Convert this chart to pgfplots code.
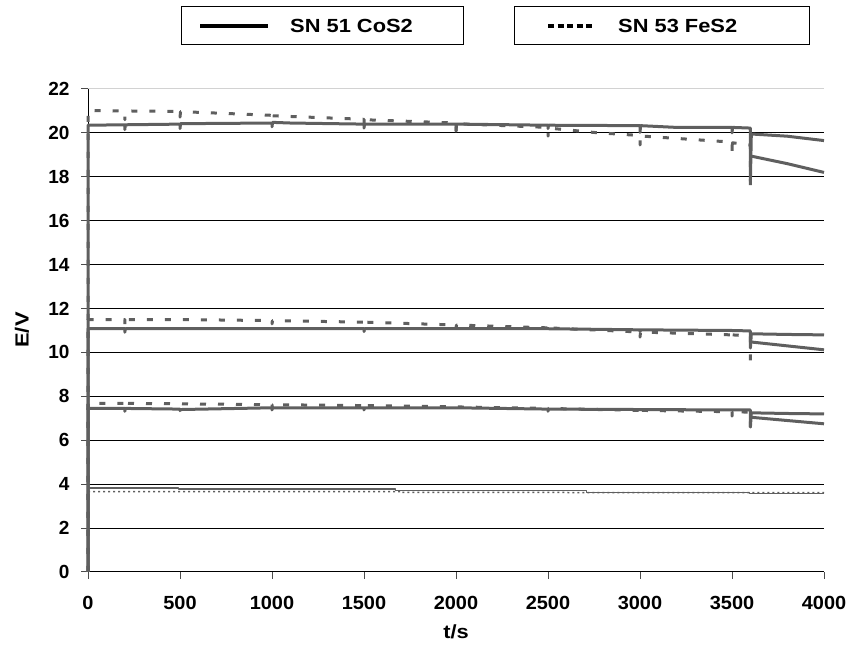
\documentclass[border=0pt]{standalone}
\usepackage{pgfplots}
\pgfplotsset{compat=1.18}
\usepackage{fontspec}
\setmainfont{Liberation Sans}
\definecolor{ser}{HTML}{5F5F5F}
\newcommand{\lbl}{\fontsize{19}{22}\selectfont\bfseries}

\begin{document}
\lbl
\begin{tikzpicture}
\useasboundingbox (0pt,0pt) rectangle (849pt,650pt);
\begin{axis}[at={(88pt,78pt)},anchor=south west,scale only axis,width=736pt,height=483pt,
 xmin=0,xmax=4000,ymin=0,ymax=22,
 xtick={0,500,...,4000},ytick={0,2,...,20},
 extra y ticks={22},extra y tick style={grid style={gray!35,line width=1pt}},
 axis x line*=bottom,axis y line*=left,axis line style={black,line width=1pt},
 ymajorgrids,grid style={black,line width=1pt},
 tick align=outside,major tick length=7pt,tick style={black!70,line width=1pt},
 ticklabel style={font=\lbl},
 xticklabel style={yshift=-11pt,xscale=1.05},
 yticklabel style={xshift=-5pt},
 /pgf/number format/assume math mode=true,/pgf/number format/1000 sep={},
 every axis plot/.append style={line join=round},
 clip=false]
% CoS2, three upper traces
\addplot[ser,line width=3pt] coordinates {(0,0) (0,20.35) (200,20.37) (200,20.15) (203,20.37) (500,20.4) (500,20.2) (503,20.42)
 (1000,20.45) (1000,20.28) (1003,20.48) (1100,20.45) (1500,20.4) (1500,20.22) (1503,20.4) (2000,20.4) (2000,20.08) (2003,20.4)
 (2500,20.35) (2500,20.2) (2503,20.35) (3000,20.33) (3000,20.02) (3003,20.33) (3200,20.25) (3500,20.25) (3500,20.0) (3503,20.25)
 (3600,20.22) (3600,17.8) (3605,19.95) (3800,19.85) (4000,19.65)};
\addplot[ser,line width=3pt] coordinates {(0,0) (0,11.08) (200,11.08) (200,10.92) (203,11.08) (1500,11.08) (1500,10.95) (1503,11.08)
 (2500,11.08) (3000,11.03) (3000,10.95) (3003,11.03) (3500,11.0) (3600,10.98) (3600,10.2) (3605,10.85) (3800,10.82) (4000,10.8)};
\addplot[ser,line width=3pt] coordinates {(0,0) (0,7.45) (200,7.45) (200,7.32) (203,7.45) (500,7.42) (500,7.35) (503,7.4)
 (1000,7.48) (1000,7.38) (1003,7.48) (1500,7.48) (1500,7.38) (1503,7.48) (2000,7.48) (2500,7.42) (3000,7.4) (3500,7.38)
 (3600,7.38) (3600,6.6) (3605,7.25) (3800,7.22) (4000,7.2)};
% FeS2, three upper traces
\addplot[ser,line width=3pt,dash pattern=on 6pt off 12pt] coordinates {(0,0) (0,21.02) (200,21.0) (200,20.6) (203,21.0) (500,20.98) (500,20.72) (503,20.97)
 (1000,20.8) (1000,20.55) (1003,20.78) (1500,20.62) (1500,20.35) (1503,20.6) (2000,20.45) (2000,20.1) (2003,20.42)
 (2500,20.25) (2500,19.85) (2503,20.22) (2750,20.02) (3000,19.88) (3000,19.45) (3003,19.86) (3250,19.72)
 (3500,19.58) (3500,19.05) (3503,19.55) (3600,19.45) (3600,17.1)};
\addplot[ser,line width=3pt] coordinates {(3600,18.95) (3800,18.6) (4000,18.2)};
\addplot[ser,line width=3pt,dash pattern=on 6pt off 12pt] coordinates {(0,0) (0,11.5) (200,11.5) (200,11.2) (203,11.5) (500,11.5)
 (1000,11.45) (1000,11.3) (1003,11.45) (1500,11.38) (1500,11.2) (1503,11.38) (2000,11.25) (2000,11.1) (2003,11.25)
 (2500,11.12) (2500,10.98) (2503,11.12) (3000,10.93) (3000,10.7) (3003,10.93) (3500,10.8) (3500,10.58) (3503,10.8)
 (3600,10.75) (3600,9.45)};
\addplot[ser,line width=3pt] coordinates {(3600,10.48) (3800,10.3) (4000,10.12)};
\addplot[ser,line width=3pt,dash pattern=on 6pt off 12pt] coordinates {(0,0) (0,7.68) (200,7.68) (200,7.5) (203,7.68) (500,7.66)
 (1000,7.62) (1000,7.45) (1003,7.62) (1500,7.58) (1500,7.45) (1503,7.58) (2000,7.52) (2500,7.45) (2500,7.32) (2503,7.45)
 (3000,7.36) (3000,7.15) (3003,7.36) (3500,7.3) (3500,7.1) (3503,7.3) (3600,7.28) (3600,6.27)};
\addplot[ser,line width=3pt] coordinates {(3600,7.05) (3800,6.9) (4000,6.75)};
% lowest traces
\addplot[ser,line width=1.3pt] coordinates {(0,3.83) (493,3.83) (493,3.78) (1673,3.78) (1673,3.71) (2710,3.71) (2710,3.63)
 (3595,3.63) (3595,3.58) (4000,3.58)};
\addplot[ser,line width=1.5pt,dash pattern=on 2pt off 3pt] coordinates {(0,3.66) (1700,3.66) (1700,3.63) (2700,3.62) (4000,3.61)};
\end{axis}
\node[rotate=90] at (22pt,320pt) {\scalebox{1.15}[1]{E/V}};
\node at (456pt,18pt) {\scalebox{1.15}[1]{t/s}};
\draw[line width=1pt] (181pt,605pt) rectangle (463pt,643pt);
\draw[line width=1pt] (514pt,605pt) rectangle (809pt,643pt);
\draw[line width=4pt] (200pt,624pt) -- (268pt,624pt);
\draw[line width=4pt,dash pattern=on 6pt off 3.5pt] (548pt,624pt) -- (594pt,624pt);
\node[anchor=west,inner sep=0] at (290pt,624pt) {\scalebox{1.15}[1]{SN 51 CoS2}};
\node[anchor=west,inner sep=0] at (618pt,624pt) {\scalebox{1.15}[1]{SN 53 FeS2}};
\end{tikzpicture}
\end{document}
